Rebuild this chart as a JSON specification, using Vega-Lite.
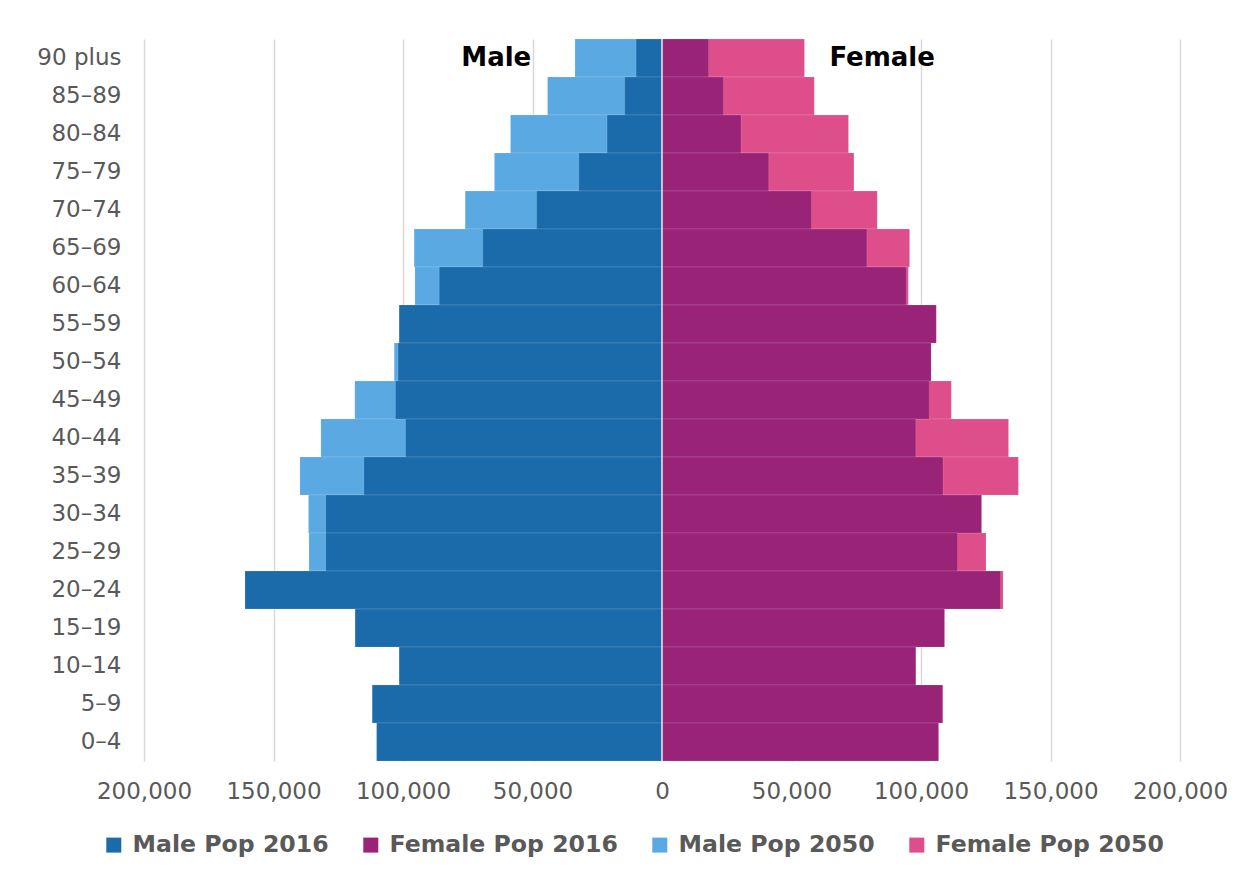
{
  "$schema": "https://vega.github.io/schema/vega-lite/v6.json",
  "width": 1036,
  "height": 722,
  "autosize": {"type": "none"},
  "padding": {"left": 144, "top": 39, "right": 68, "bottom": 119},
  "background": "white",
  "config": {
    "view": {"stroke": null},
    "font": "DejaVu Sans"
  },
  "datasets": {
    "pop": [
      {"age": "90 plus", "series": "Male Pop 2016", "value": -10000},
      {"age": "85–89", "series": "Male Pop 2016", "value": -14400},
      {"age": "80–84", "series": "Male Pop 2016", "value": -21200},
      {"age": "75–79", "series": "Male Pop 2016", "value": -32100},
      {"age": "70–74", "series": "Male Pop 2016", "value": -48400},
      {"age": "65–69", "series": "Male Pop 2016", "value": -69200},
      {"age": "60–64", "series": "Male Pop 2016", "value": -86000},
      {"age": "55–59", "series": "Male Pop 2016", "value": -101500},
      {"age": "50–54", "series": "Male Pop 2016", "value": -101900},
      {"age": "45–49", "series": "Male Pop 2016", "value": -102900},
      {"age": "40–44", "series": "Male Pop 2016", "value": -99000},
      {"age": "35–39", "series": "Male Pop 2016", "value": -115100},
      {"age": "30–34", "series": "Male Pop 2016", "value": -129800},
      {"age": "25–29", "series": "Male Pop 2016", "value": -129800},
      {"age": "20–24", "series": "Male Pop 2016", "value": -161000},
      {"age": "15–19", "series": "Male Pop 2016", "value": -118500},
      {"age": "10–14", "series": "Male Pop 2016", "value": -101500},
      {"age": "5–9", "series": "Male Pop 2016", "value": -111900},
      {"age": "0–4", "series": "Male Pop 2016", "value": -110200},
      {"age": "90 plus", "series": "Male Pop 2050", "value": -33600},
      {"age": "85–89", "series": "Male Pop 2050", "value": -44200},
      {"age": "80–84", "series": "Male Pop 2050", "value": -58500},
      {"age": "75–79", "series": "Male Pop 2050", "value": -64700},
      {"age": "70–74", "series": "Male Pop 2050", "value": -76000},
      {"age": "65–69", "series": "Male Pop 2050", "value": -95700},
      {"age": "60–64", "series": "Male Pop 2050", "value": -95400},
      {"age": "55–59", "series": "Male Pop 2050", "value": -100000},
      {"age": "50–54", "series": "Male Pop 2050", "value": -103400},
      {"age": "45–49", "series": "Male Pop 2050", "value": -118600},
      {"age": "40–44", "series": "Male Pop 2050", "value": -131700},
      {"age": "35–39", "series": "Male Pop 2050", "value": -139800},
      {"age": "30–34", "series": "Male Pop 2050", "value": -136500},
      {"age": "25–29", "series": "Male Pop 2050", "value": -136300},
      {"age": "20–24", "series": "Male Pop 2050", "value": -140000},
      {"age": "15–19", "series": "Male Pop 2050", "value": -112000},
      {"age": "10–14", "series": "Male Pop 2050", "value": -96000},
      {"age": "5–9", "series": "Male Pop 2050", "value": -92000},
      {"age": "0–4", "series": "Male Pop 2050", "value": -88000},
      {"age": "90 plus", "series": "Female Pop 2016", "value": 18000},
      {"age": "85–89", "series": "Female Pop 2016", "value": 23700},
      {"age": "80–84", "series": "Female Pop 2016", "value": 30500},
      {"age": "75–79", "series": "Female Pop 2016", "value": 41200},
      {"age": "70–74", "series": "Female Pop 2016", "value": 57700},
      {"age": "65–69", "series": "Female Pop 2016", "value": 79100},
      {"age": "60–64", "series": "Female Pop 2016", "value": 94300},
      {"age": "55–59", "series": "Female Pop 2016", "value": 105900},
      {"age": "50–54", "series": "Female Pop 2016", "value": 103900},
      {"age": "45–49", "series": "Female Pop 2016", "value": 103200},
      {"age": "40–44", "series": "Female Pop 2016", "value": 98000},
      {"age": "35–39", "series": "Female Pop 2016", "value": 108500},
      {"age": "30–34", "series": "Female Pop 2016", "value": 123400},
      {"age": "25–29", "series": "Female Pop 2016", "value": 114100},
      {"age": "20–24", "series": "Female Pop 2016", "value": 130700},
      {"age": "15–19", "series": "Female Pop 2016", "value": 109100},
      {"age": "10–14", "series": "Female Pop 2016", "value": 98000},
      {"age": "5–9", "series": "Female Pop 2016", "value": 108400},
      {"age": "0–4", "series": "Female Pop 2016", "value": 106800},
      {"age": "90 plus", "series": "Female Pop 2050", "value": 55000},
      {"age": "85–89", "series": "Female Pop 2050", "value": 58800},
      {"age": "80–84", "series": "Female Pop 2050", "value": 72000},
      {"age": "75–79", "series": "Female Pop 2050", "value": 74100},
      {"age": "70–74", "series": "Female Pop 2050", "value": 83100},
      {"age": "65–69", "series": "Female Pop 2050", "value": 95600},
      {"age": "60–64", "series": "Female Pop 2050", "value": 95100},
      {"age": "55–59", "series": "Female Pop 2050", "value": 100000},
      {"age": "50–54", "series": "Female Pop 2050", "value": 100000},
      {"age": "45–49", "series": "Female Pop 2050", "value": 111700},
      {"age": "40–44", "series": "Female Pop 2050", "value": 133800},
      {"age": "35–39", "series": "Female Pop 2050", "value": 137600},
      {"age": "30–34", "series": "Female Pop 2050", "value": 120000},
      {"age": "25–29", "series": "Female Pop 2050", "value": 125100},
      {"age": "20–24", "series": "Female Pop 2050", "value": 131700},
      {"age": "15–19", "series": "Female Pop 2050", "value": 104000},
      {"age": "10–14", "series": "Female Pop 2050", "value": 95000},
      {"age": "5–9", "series": "Female Pop 2050", "value": 92000},
      {"age": "0–4", "series": "Female Pop 2050", "value": 88000}
    ],
    "labels": [
      {"age": "90 plus", "label": "Male", "value": -64000},
      {"age": "90 plus", "label": "Female", "value": 85000}
    ]
  },
  "encoding": {
    "y": {
      "field": "age",
      "type": "nominal",
      "title": null,
      "scale": {
        "domain": ["90 plus", "85–89", "80–84", "75–79", "70–74", "65–69", "60–64", "55–59", "50–54", "45–49", "40–44", "35–39", "30–34", "25–29", "20–24", "15–19", "10–14", "5–9", "0–4"],
        "paddingInner": 0,
        "paddingOuter": 0
      },
      "axis": {
        "domain": false,
        "ticks": false,
        "grid": false,
        "labelPadding": 23,
        "labelFontSize": 23,
        "labelFont": "DejaVu Sans",
        "labelColor": "#595959"
      }
    },
    "x": {
      "field": "value",
      "type": "quantitative",
      "title": null,
      "scale": {"domain": [-200000, 200000], "nice": false},
      "axis": {
        "values": [-200000, -150000, -100000, -50000, 0, 50000, 100000, 150000, 200000],
        "labelExpr": "format(abs(datum.value), ',')",
        "labelOverlap": false,
        "labelBound": false,
        "labelFlush": false,
        "domain": false,
        "ticks": false,
        "grid": true,
        "gridColor": "#D9D9D9",
        "gridWidth": 1.5,
        "labelPadding": 19,
        "labelFontSize": 23,
        "labelFont": "DejaVu Sans",
        "labelColor": "#595959"
      }
    }
  },
  "layer": [
    {
      "data": {"name": "pop"},
      "transform": [{"filter": "indexof(datum.series, '2050') >= 0"}],
      "mark": {"type": "bar", "stroke": "white", "strokeWidth": 0.25, "strokeOpacity": 0.5},
      "encoding": {
        "color": {
          "field": "series",
          "type": "nominal",
          "scale": {
            "domain": ["Male Pop 2016", "Female Pop 2016", "Male Pop 2050", "Female Pop 2050"],
            "range": ["#1B6BAA", "#992377", "#5BA9E3", "#DE4E8A"]
          },
          "legend": {
            "title": null,
            "orient": "none",
            "legendX": -42,
            "legendY": 794,
            "direction": "horizontal",
            "columns": 4,
            "columnPadding": 30,
            "padding": 0,
            "symbolType": "square",
            "symbolSize": 225,
            "symbolStrokeWidth": 0,
            "symbolOpacity": 1,
            "labelOffset": 7,
            "labelFontSize": 23.6,
            "labelFont": "DejaVu Sans",
            "labelFontWeight": "bold",
            "labelColor": "#595959",
            "labelLimit": 400
          }
        }
      }
    },
    {
      "data": {"name": "pop"},
      "transform": [{"filter": "indexof(datum.series, '2016') >= 0"}],
      "mark": {"type": "bar", "stroke": "white", "strokeWidth": 0.25, "strokeOpacity": 0.5},
      "encoding": {
        "color": {"field": "series", "type": "nominal"}
      }
    },
    {
      "data": {"values": [{"zero": 0}]},
      "mark": {"type": "rule", "color": "#E6E6E6", "strokeWidth": 1.5},
      "encoding": {
        "x": {"field": "zero", "type": "quantitative"},
        "y": null
      }
    },
    {
      "data": {"name": "labels"},
      "mark": {"type": "text", "font": "DejaVu Sans", "fontSize": 26, "fontWeight": "bold", "color": "black", "align": "center", "baseline": "middle", "dy": 0},
      "encoding": {
        "text": {"field": "label", "type": "nominal"}
      }
    }
  ]
}
